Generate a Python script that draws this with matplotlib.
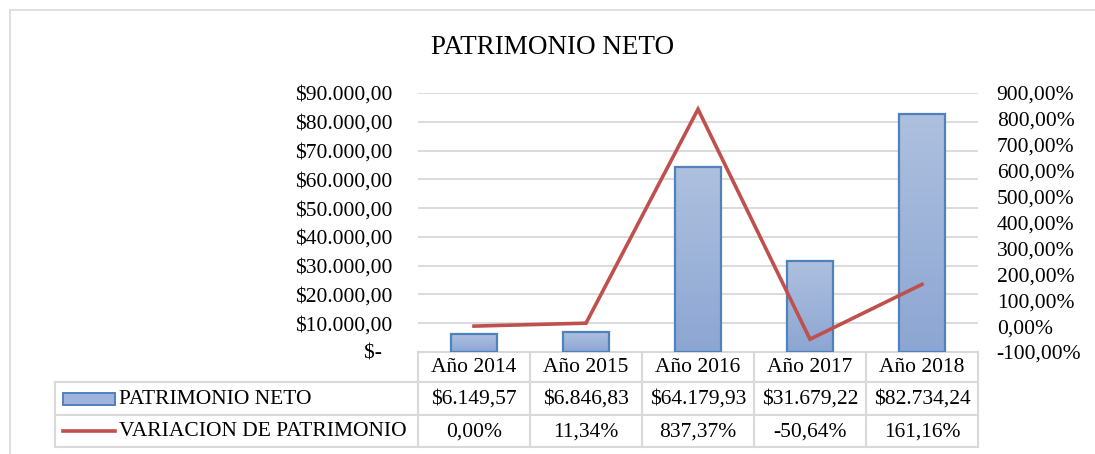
import matplotlib
matplotlib.use("Agg")
import matplotlib.pyplot as plt
import numpy as np
from matplotlib.transforms import blended_transform_factory
from matplotlib.patches import Rectangle
from matplotlib.lines import Line2D
from matplotlib.colors import LinearSegmentedColormap

# --- data -------------------------------------------------------------
years = ["Año 2014", "Año 2015", "Año 2016", "Año 2017", "Año 2018"]
patrimonio = [6149.57, 6846.83, 64179.93, 31679.22, 82734.24]
variacion = [0.00, 11.34, 837.37, -50.64, 161.16]
patrimonio_labels = ["$6.149,57", "$6.846,83", "$64.179,93", "$31.679,22", "$82.734,24"]
variacion_labels = ["0,00%", "11,34%", "837,37%", "-50,64%", "161,16%"]
series_names = ["PATRIMONIO NETO", "VARIACION DE PATRIMONIO"]
title = "PATRIMONIO NETO"

# --- style ------------------------------------------------------------
plt.rcParams["font.family"] = ["Liberation Serif", "DejaVu Serif"]
FS = 15.5
GRID = "#D9D9D9"
BAR_EDGE = "#4F81BD"
LINE_COLOR = "#C0504D"
W, H = 1095, 454

fig = plt.figure(figsize=(W / 100, H / 100), dpi=100)

# overlay in pixel coordinates (origin top-left) for table, frame and title
over = fig.add_axes([0, 0, 1, 1], zorder=0)
over.set_xlim(0, W)
over.set_ylim(H, 0)
over.axis("off")

# plot area
x0, x1, ytop, ybot = 418, 978, 93, 352
ax = fig.add_axes([x0 / W, 1 - ybot / H, (x1 - x0) / W, (ybot - ytop) / H], zorder=2)
ax.patch.set_alpha(0)
n = len(years)
x = np.arange(n)
ax.set_xlim(-0.5, n - 0.5)
ax.set_ylim(0, 90000)
ax.set_yticks(np.arange(0, 90001, 10000))
ax.set_yticklabels(["$-  "] + [f"${v // 1000}.000,00" for v in range(10000, 90001, 10000)],
                   fontsize=FS)
ax.set_xticks([])
ax.tick_params(axis="y", length=0, pad=18.5)
for s in ax.spines.values():
    s.set_visible(False)
ax.grid(axis="y", color=GRID, lw=1.3)
ax.set_axisbelow(True)

# bars with a soft vertical gradient
cmap = LinearSegmentedColormap.from_list("barfill", ["#8CA6D3", "#AEC0DF"])
grad = np.linspace(0, 1, 256).reshape(-1, 1)
bw = 0.41
bars = ax.bar(x, patrimonio, width=bw, facecolor="none", edgecolor=BAR_EDGE, lw=1.6, zorder=3)
for b in bars:
    bx, by = b.get_x(), b.get_y()
    bh = b.get_height()
    im = ax.imshow(grad, extent=[bx, bx + bw, by, by + bh], aspect="auto",
                   cmap=cmap, origin="lower", zorder=2.5)
    im.set_clip_path(b)
ax.set_xlim(-0.5, n - 0.5)
ax.set_ylim(0, 90000)

# secondary axis for the variation line
ax2 = ax.twinx()
ax2.set_ylim(-100, 900)
ax2.set_yticks(np.arange(-100, 901, 100))
ax2.set_yticklabels([f"{v},00%" for v in range(-100, 901, 100)], fontsize=FS)
ax2.tick_params(axis="y", length=0, pad=13.5)
for s in ax2.spines.values():
    s.set_visible(False)
ax2.plot(x, variacion, color=LINE_COLOR, lw=2.6, solid_joinstyle="miter", zorder=4)

# --- data table under the plot ---------------------------------------
tr = blended_transform_factory(ax.transData, over.transData)
row_y = [352, 382, 415, 447]
tl = 55
edges = np.arange(n + 1) - 0.5
lk = dict(color=GRID, lw=1.5, zorder=1)
# horizontal rules
over.add_line(Line2D([x0, x1], [row_y[0]] * 2, **lk))
for yy in row_y[1:]:
    over.add_line(Line2D([tl, x1], [yy] * 2, **lk))
# vertical rules
over.add_line(Line2D([tl, tl], [row_y[1], row_y[3]], **lk))
for e in edges:
    ax.add_line(Line2D([e, e], [row_y[0], row_y[3]], transform=tr, clip_on=False, **lk))

cy = [(row_y[i] + row_y[i + 1]) / 2 for i in range(3)]
for i in range(n):
    over.text(x[i], cy[0] + 1, years[i], transform=tr, ha="center", va="center", fontsize=FS)
    over.text(x[i], cy[1] + 1, patrimonio_labels[i], transform=tr, ha="center", va="center", fontsize=FS)
    over.text(x[i], cy[2] + 1, variacion_labels[i], transform=tr, ha="center", va="center", fontsize=FS)

# legend keys inside the table
over.add_patch(Rectangle((63, 393), 52, 12, facecolor="#9FB4DA", edgecolor=BAR_EDGE, lw=1.4))
over.add_line(Line2D([63, 115], [431, 431], color=LINE_COLOR, lw=2.6))
over.text(119, cy[1] + 1, series_names[0], ha="left", va="center", fontsize=FS)
over.text(119, cy[2] + 1, series_names[1], ha="left", va="center", fontsize=FS)

# title and chart frame
over.text(553, 47, title, ha="center", va="center", fontsize=19.5)
over.add_line(Line2D([10, W], [10, 10], color=GRID, lw=1.2))
over.add_line(Line2D([10, 10], [10, H], color=GRID, lw=1.2))

fig.savefig("out.png", dpi=100)
